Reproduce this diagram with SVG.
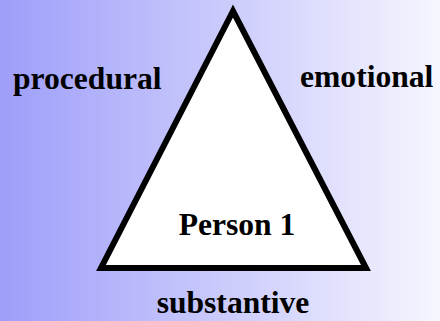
<svg xmlns="http://www.w3.org/2000/svg" width="440" height="321" viewBox="0 0 440 321">
<style>
.lbl{font-family:"Liberation Serif","Times New Roman",serif;font-weight:bold;font-size:31.6px;fill:#000}
</style>
<defs>
<linearGradient id="bg" x1="0" y1="0" x2="1" y2="0">
<stop offset="0" stop-color="#9e9efa"/>
<stop offset="1" stop-color="#f6f6fe"/>
</linearGradient>
</defs>
<rect width="440" height="321" fill="url(#bg)"/>
<g id="triangle">
<polygon points="233,11 101,268 366,268" fill="#fff" stroke="#000" stroke-width="6" stroke-linejoin="miter"/>
<text class="lbl" x="237" y="235" text-anchor="middle">Person 1</text>
</g>
<g id="procedural"><text class="lbl" x="13" y="89">procedural</text></g>
<g id="emotional"><text class="lbl" x="300" y="87">emotional</text></g>
<g id="substantive"><text class="lbl" x="233" y="313" text-anchor="middle">substantive</text></g>
<g id="connectors"/>
</svg>
